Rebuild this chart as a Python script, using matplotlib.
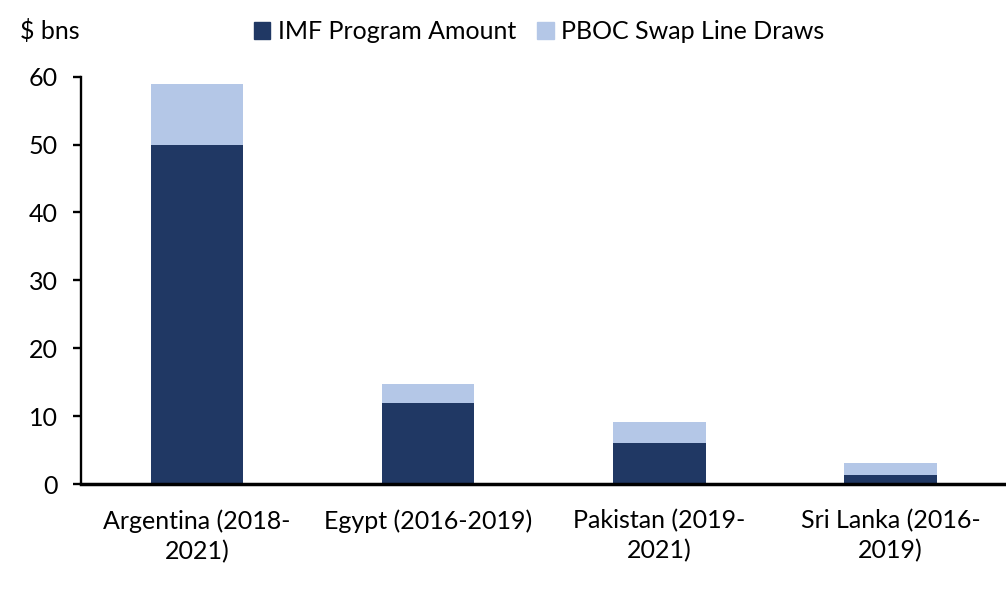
import numpy as np
import matplotlib
matplotlib.use("Agg")
import matplotlib.pyplot as plt
from matplotlib.patches import Patch

# data
countries = ["Argentina (2018-\n2021)", "Egypt (2016-2019)", "Pakistan (2019-\n2021)", "Sri Lanka (2016-\n2019)"]
imf_amount = [50.0, 12.0, 6.0, 1.4]
pboc_draws = [8.9, 2.8, 3.1, 1.7]

dark = "#203864"
light = "#B4C7E7"

plt.rcParams["font.family"] = ["Lato", "DejaVu Sans"]

fig = plt.figure(figsize=(10.06, 6.03), dpi=100)
ax = fig.add_axes([0.081, 0.197, 0.919, 0.676])

x = np.arange(len(countries))
ax.bar(x, imf_amount, width=0.4, color=dark)
ax.bar(x, pboc_draws, width=0.4, bottom=imf_amount, color=light)

ax.set_ylim(0, 60)
ax.set_xlim(-0.5, 3.5)
ax.set_yticks(range(0, 61, 10))
ax.set_xticks(x)
ax.set_xticklabels(countries, fontsize=18, linespacing=1.35)
ax.tick_params(axis="y", labelsize=18, length=5.8, width=1.7, direction="out", pad=11)
ax.tick_params(axis="x", length=0, pad=18)

for s in ["top", "right"]:
    ax.spines[s].set_visible(False)
ax.spines["left"].set_linewidth(1.7)
ax.spines["bottom"].set_linewidth(2.5)

fig.text(0.02, 0.949, "$ bns", fontsize=18, va="center", ha="left")

handles = [Patch(color=dark, label="IMF Program Amount"),
           Patch(color=light, label="PBOC Swap Line Draws")]
fig.legend(handles=handles, loc="center", bbox_to_anchor=(0.536, 0.947), ncol=2,
           frameon=False, fontsize=18, handlelength=0.65, handleheight=0.65,
           handletextpad=0.3, columnspacing=0.85)

fig.savefig("out.png", dpi=100)
